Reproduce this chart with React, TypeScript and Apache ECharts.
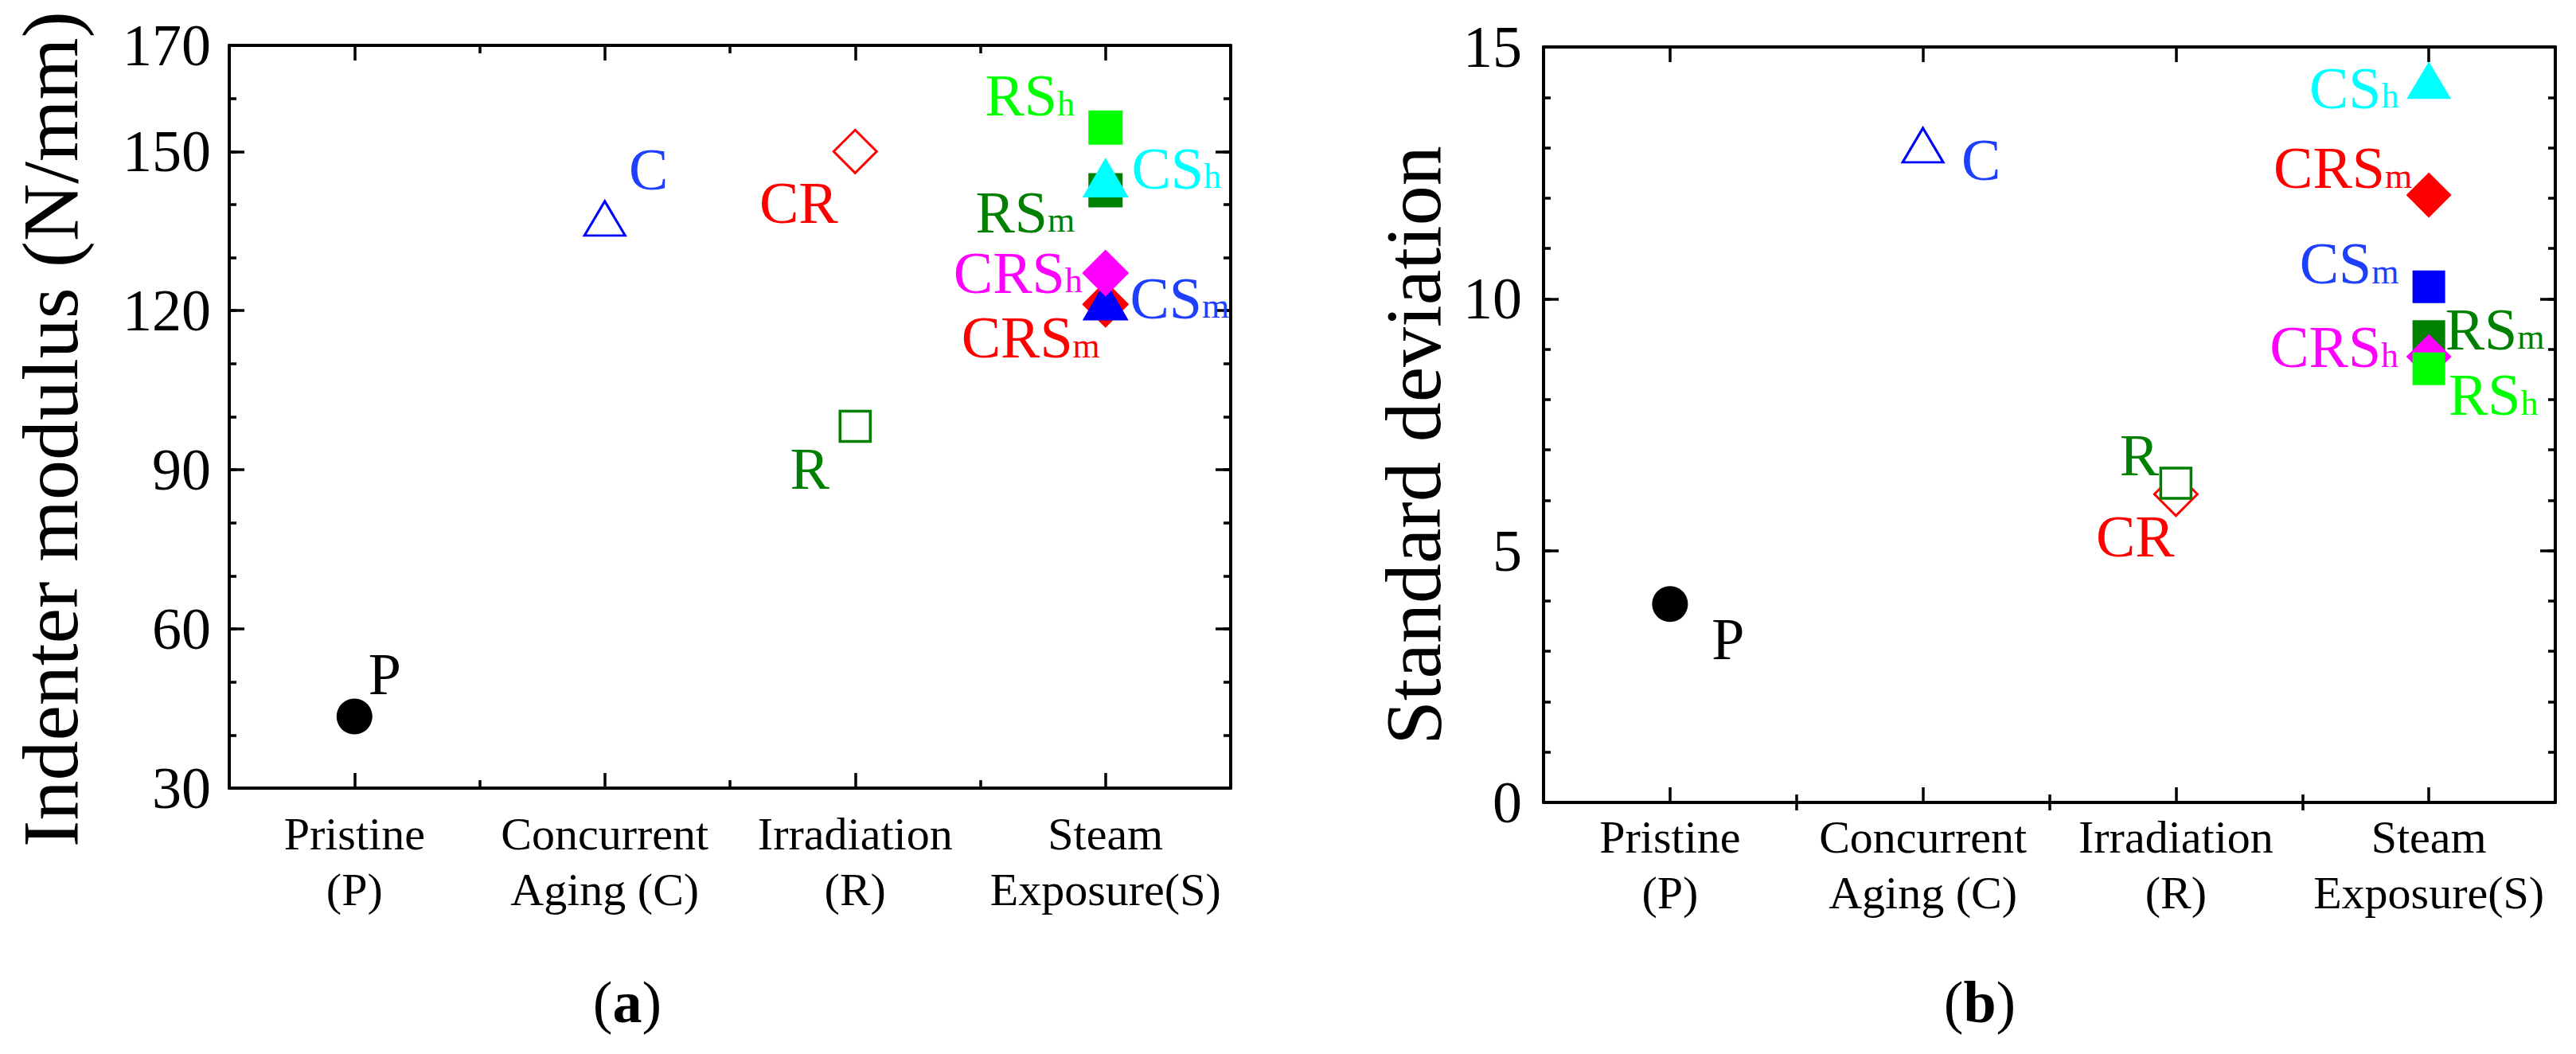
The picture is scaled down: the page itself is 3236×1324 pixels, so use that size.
import React, { useEffect, useRef } from 'react';
import * as echarts from 'echarts';

const FONT = "'Times New Roman', 'Liberation Serif', Times, serif";

// ---------------- data ----------------
const categories = ['Pristine\n(P)', 'Concurrent\nAging (C)', 'Irradiation\n(R)', 'Steam\nExposure(S)'];
const categoryPositions = [1, 2, 3, 4];
const categoryMinorPositions = [1.5, 2.5, 3.5];

// samples: P, C, CR, R, RSh, RSm, CSh, CRSh, CRSm, CSm
const sampleMain = ['P', 'C', 'CR', 'R', 'RS', 'RS', 'CS', 'CRS', 'CRS', 'CS'];
const sampleSub = ['', '', '', '', 'h', 'm', 'h', 'h', 'm', 'm'];
const sampleCategory = [1, 2, 3, 3, 4, 4, 4, 4, 4, 4];
const modulusValues = [43.5, 137.4, 150.0, 98.2, 154.5, 142.7, 145.1, 127.1, 121.2, 121.9];
const stdDevValues = [3.94, 13.05, 6.12, 6.34, 8.61, 9.25, 14.34, 8.85, 12.06, 10.24];

const modulusLabelValues = [30, 60, 90, 120, 150, 170];
const modulusMajorTicks = [30, 60, 90, 120, 150];
const stdDevLabelValues = [0, 5, 10, 15];
const stdDevMajorTicks = [0, 5, 10, 15];

// ---------------- styles ----------------
const markerColors = ['#000000', '#0000ff', '#ff0000', '#008000', '#00ff00', '#008000', '#00ffff', '#ff00ff', '#ff0000', '#0000ff'];
const labelColors = ['#000000', '#1f3fff', '#ff0000', '#008000', '#00ff00', '#008000', '#00ffff', '#ff00ff', '#ff0000', '#1f3fff'];
const filledFlags = [true, false, false, false, true, true, true, true, true, true];
const symbolsA = ['circle', 'triangle', 'diamond', 'rect', 'rect', 'rect', 'triangle', 'diamond', 'diamond', 'triangle'];
const symbolsB = ['circle', 'triangle', 'diamond', 'rect', 'rect', 'rect', 'triangle', 'diamond', 'diamond', 'rect'];
const orderA = [0, 1, 2, 3, 4, 5, 6, 8, 9, 7];
const orderB = [0, 1, 2, 3, 6, 8, 9, 5, 7, 4];
const labelOffsetsA = [[38, -53], [55, -61], [-71, 65], [-57, 54], [-95, -40], [-101, 28], [89, -11], [-110, 0], [-94, 42], [93, -3]];
const labelOffsetsB = [[73, 44], [73, 19], [-51, 53], [-46, -35], [81, 33], [83, -9], [-94, 10], [-119, -12], [-108, -34], [-100, -29]];

const sizesA: Record<string, number[]> = {
  circle: [45, 45], triangleOpen: [51, 43], diamondOpen: [54, 54], rectOpen: [38, 38],
  rect: [43, 43], triangle: [58, 50], diamond: [59, 59],
};
const sizesB: Record<string, number[]> = {
  circle: [45, 45], triangleOpen: [51, 43], diamondOpen: [54, 54], rectOpen: [38, 38],
  rect: [41, 41], triangle: [56, 47], diamond: [57, 57],
};

const panels = [
  {
    grid: { left: 288, top: 57, width: 1258, height: 933 },
    values: modulusValues, yMin: 30, yMax: 170, yMinor: 10,
    yLabels: modulusLabelValues, yMajor: modulusMajorTicks,
    yName: 'Indenter modulus (N/mm)', nameGap: 175, namePad: 31,
    yLabelMargin: 23, xLabelMargin: 22,
    symbols: symbolsA, sizes: sizesA, order: orderA, offsets: labelOffsetsA,
    caption: 'a', captionX: 788,
  },
  {
    grid: { left: 1939, top: 59, width: 1271, height: 949 },
    values: stdDevValues, yMin: 0, yMax: 15, yMinor: 1,
    yLabels: stdDevLabelValues, yMajor: stdDevMajorTicks,
    yName: 'Standard deviation', nameGap: 114, namePad: 52,
    yLabelMargin: 27, xLabelMargin: 8,
    symbols: symbolsB, sizes: sizesB, order: orderB, offsets: labelOffsetsB,
    caption: 'b', captionX: 2487,
  },
];

const AXIS_LINE = { show: true, onZero: false, lineStyle: { color: '#000', width: 4 } };
const TICK_STYLE = { color: '#000', width: 3.5 };

function buildOption() {
  const grids: any[] = [];
  const xAxes: any[] = [];
  const yAxes: any[] = [];
  const series: any[] = [];
  const graphics: any[] = [];

  panels.forEach((p, gi) => {
    grids.push({ ...p.grid, containLabel: false, outerBoundsMode: 'none', show: false });
    const xBase = { type: 'value', gridIndex: gi, min: 0.5, max: 4.5, interval: 0.5, splitLine: { show: false } };
    xAxes.push({
      ...xBase, position: 'bottom', axisLine: AXIS_LINE,
      axisTick: { show: true, inside: true, length: 19, customValues: categoryPositions, lineStyle: TICK_STYLE },
      axisLabel: {
        show: true, customValues: categoryPositions, margin: p.xLabelMargin,
        formatter: (v: number) => categories[Math.round(v) - 1] ?? '',
        fontSize: 58, lineHeight: 70, fontFamily: FONT, color: '#000', align: 'center',
      },
    });
    xAxes.push({
      ...xBase, position: 'top', axisLine: AXIS_LINE,
      axisTick: { show: true, inside: true, length: 19, customValues: categoryPositions, lineStyle: TICK_STYLE },
      axisLabel: { show: false },
    });
    xAxes.push({
      ...xBase, position: 'bottom', axisLine: { show: false },
      axisTick: { show: true, inside: true, length: 10, customValues: categoryMinorPositions, lineStyle: TICK_STYLE },
      axisLabel: { show: false },
    });
    xAxes.push({
      ...xBase, position: 'top', axisLine: { show: false },
      axisTick: { show: true, inside: true, length: 10, customValues: categoryMinorPositions, lineStyle: TICK_STYLE },
      axisLabel: { show: false },
    });

    const yBase = { type: 'value', gridIndex: gi, min: p.yMin, max: p.yMax, interval: p.yMinor, splitLine: { show: false } };
    yAxes.push({
      ...yBase, position: 'left', axisLine: AXIS_LINE,
      axisTick: { show: true, inside: true, length: 19, customValues: p.yMajor, lineStyle: TICK_STYLE },
      axisLabel: {
        show: true, customValues: p.yLabels, margin: p.yLabelMargin,
        fontSize: 74, fontFamily: FONT, color: '#000',
      },
      name: p.yName, nameLocation: 'middle', nameRotate: 90, nameGap: p.nameGap, nameMoveOverlap: false,
      nameTextStyle: { fontSize: 100, fontFamily: FONT, color: '#000', padding: [0, p.namePad, 0, 0] },
    });
    yAxes.push({
      ...yBase, position: 'right', axisLine: AXIS_LINE,
      axisTick: { show: true, inside: true, length: 19, customValues: p.yMajor, lineStyle: TICK_STYLE },
      axisLabel: { show: false },
    });
    yAxes.push({
      ...yBase, position: 'left', axisLine: { show: false },
      axisTick: { show: true, inside: true, length: 9, lineStyle: TICK_STYLE },
      axisLabel: { show: false },
    });
    yAxes.push({
      ...yBase, position: 'right', axisLine: { show: false },
      axisTick: { show: true, inside: true, length: 9, lineStyle: TICK_STYLE },
      axisLabel: { show: false },
    });

    p.order.forEach((i, k) => {
      const sym = p.symbols[i];
      const filled = filledFlags[i];
      const sizeKey = sym === 'circle' ? 'circle' : filled ? sym : sym + 'Open';
      const color = markerColors[i];
      const lc = labelColors[i];
      const sub = sampleSub[i];
      const main = sampleMain[i];
      series.push({
        type: 'scatter',
        name: main + sub + (gi === 0 ? ' (a)' : ' (b)'),
        xAxisIndex: gi * 4,
        yAxisIndex: gi * 4,
        data: [[sampleCategory[i], p.values[i]]],
        symbol: sym,
        symbolSize: p.sizes[sizeKey],
        z: 2 + k,
        silent: true,
        emphasis: { disabled: true },
        itemStyle: {
          color: filled ? color : '#ffffff',
          borderColor: color,
          borderWidth: filled ? 0 : (sym === 'rect' ? 3.5 : 3),
          opacity: 1,
        },
        label: {
          show: true,
          position: ['50%', '50%'],
          align: 'center',
          verticalAlign: 'middle',
          offset: p.offsets[i],
          formatter: sub ? `{m|${main}}{s|${sub}}` : `{m|${main}}`,
          rich: {
            m: { fontSize: 74, fontFamily: FONT, color: lc },
            s: { fontSize: 44, fontFamily: FONT, color: lc, verticalAlign: 'bottom', height: 54 },
          },
        },
      });
    });

    graphics.push({
      type: 'text',
      x: p.captionX,
      y: 1259,
      style: {
        text: `{p|(}{b|${p.caption}}{p|)}`,
        align: 'center',
        verticalAlign: 'middle',
        rich: {
          p: { fontSize: 74, fontFamily: FONT, fill: '#000' },
          b: { fontSize: 74, fontFamily: FONT, fontWeight: 'bold', fill: '#000' },
        },
      },
    });
  });

  return {
    animation: false,
    backgroundColor: '#ffffff',
    grid: grids,
    xAxis: xAxes,
    yAxis: yAxes,
    series,
    graphic: graphics,
  };
}

export default function App() {
  const ref = useRef<HTMLDivElement | null>(null);
  useEffect(() => {
    if (!ref.current) return;
    const chart = echarts.init(ref.current, null, { renderer: 'svg' });
    chart.setOption(buildOption() as any);
    return () => chart.dispose();
  }, []);
  return (
    <div
      ref={ref}
      style={{ position: 'fixed', left: 0, top: 0, width: 3236, height: 1324, background: '#fff' }}
    />
  );
}
